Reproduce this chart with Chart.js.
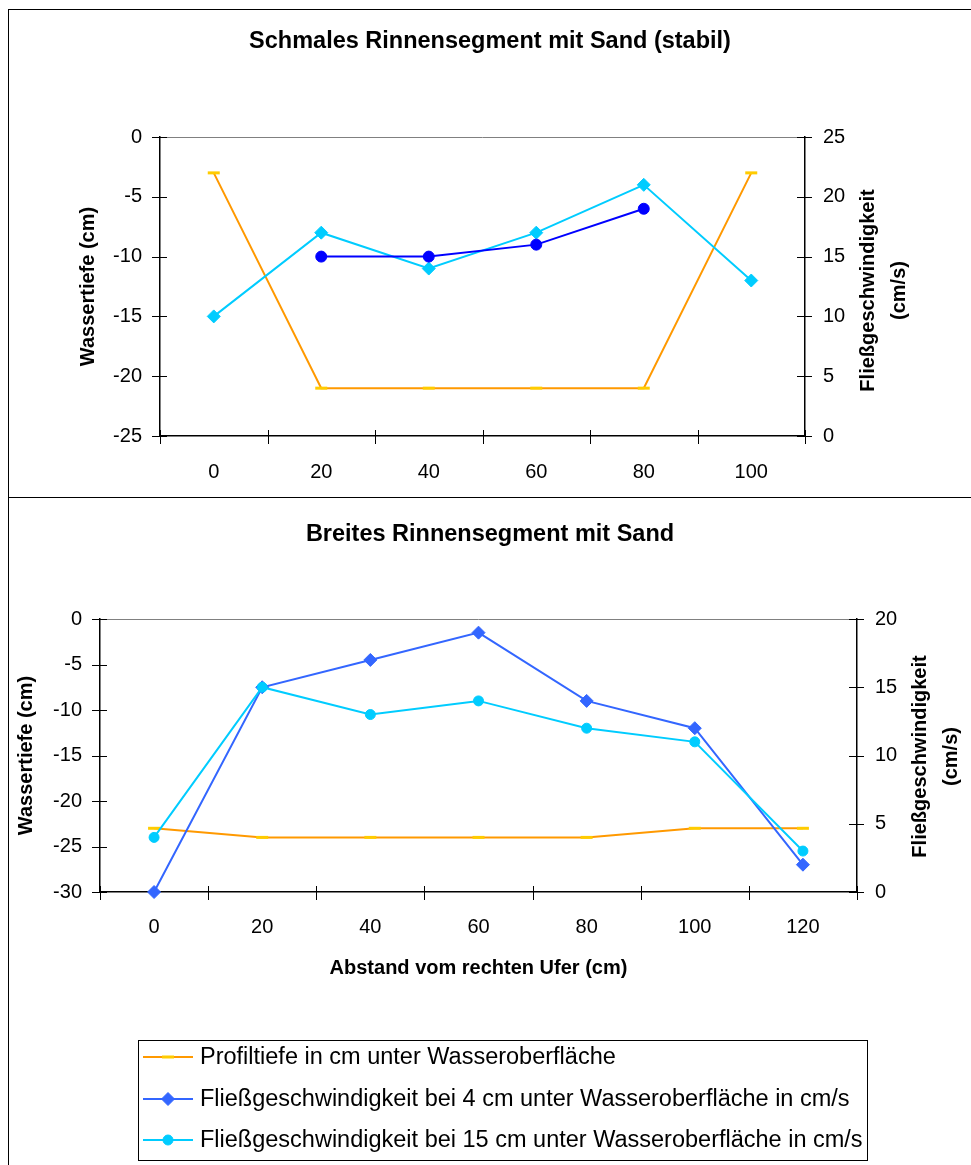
<!DOCTYPE html>
<html lang="de">
<head>
<meta charset="utf-8">
<title>Rinnensegmente mit Sand</title>
<script src="https://cdn.jsdelivr.net/npm/chart.js@4.4.1/dist/chart.umd.min.js"></script>
<style>
  html, body { margin: 0; padding: 0; background: #fff; }
  body { width: 971px; height: 1165px; position: relative; overflow: hidden; }
  .rahmen { position: absolute; left: 8px; width: 1000px; border: 1px solid #000; box-sizing: border-box; }
  #rahmen1 { top: 9px; height: 489px; }
  #rahmen2 { top: 497px; height: 720px; }
  canvas { position: absolute; }
  #c1 { left: 9px; top: 10px; }
  #c2 { left: 9px; top: 499px; }
</style>
</head>
<body>
<div class="rahmen" id="rahmen1"></div>
<div class="rahmen" id="rahmen2"></div>
<canvas id="c1" width="962" height="488"></canvas>
<canvas id="c2" width="962" height="666"></canvas>
<script>
// Schmales Rinnensegment (stabil): Abstand vom rechten Ufer in cm
const schmalAbstand = ['0', '20', '40', '60', '80', '100'];
const schmalProfiltiefe = [-3, -21, -21, -21, -21, -3];
const schmalV4 = [10, 17, 14, 17, 21, 13];
const schmalV15 = [null, 15, 15, 16, 19, null];

// Breites Rinnensegment
const breitAbstand = ['0', '20', '40', '60', '80', '100', '120'];
const breitProfiltiefe = [-23, -24, -24, -24, -24, -23, -23];
const breitV4 = [0, 15, 17, 19, 14, 12, 2];
const breitV15 = [4, 15, 13, 14, 12, 11, 3];

const serienNamen = [
  'Profiltiefe in cm unter Wasseroberfläche',
  'Fließgeschwindigkeit bei 4 cm unter Wasseroberfläche in cm/s',
  'Fließgeschwindigkeit bei 15 cm unter Wasseroberfläche in cm/s'
];
const titelSchmal = 'Schmales Rinnensegment mit Sand (stabil)';
const titelBreit = 'Breites Rinnensegment mit Sand';
const tiefeTitel = 'Wassertiefe (cm)';
const geschwTitel = ['Fließgeschwindigkeit', '(cm/s)'];
const abstandTitel = 'Abstand vom rechten Ufer (cm)';

const SCHRIFT = '"Liberation Sans", Arial, Helvetica, sans-serif';
Chart.defaults.font.family = SCHRIFT;
Chart.defaults.color = '#000';

// Cross-style tick marks on all three axes plus the grey top edge of the plot area
const achsenStriche = {
  id: 'achsenStriche',
  beforeDatasetsDraw(chart) {
    const { ctx, chartArea: a, scales } = chart;
    ctx.save();
    ctx.lineWidth = 1;
    ctx.strokeStyle = '#808080';
    ctx.beginPath();
    ctx.moveTo(a.left, Math.round(a.top) + 0.5);
    ctx.lineTo(a.right, Math.round(a.top) + 0.5);
    ctx.stroke();
    ctx.strokeStyle = '#000';
    ctx.beginPath();
    [['y', a.left], ['y1', a.right]].forEach(([id, x]) => {
      const s = scales[id];
      s.ticks.forEach((t) => {
        const py = Math.round(s.getPixelForValue(t.value)) + 0.5;
        ctx.moveTo(x - 8, py);
        ctx.lineTo(x + 7, py);
      });
    });
    const sx = scales.x;
    const n = sx.ticks.length;
    for (let i = 0; i <= n; i++) {
      const px = Math.round(sx.left + sx.width * i / n) + 0.5;
      ctx.moveTo(px, a.bottom - 6);
      ctx.lineTo(px, a.bottom + 8);
    }
    ctx.stroke();
    ctx.restore();
  }
};

// Right axis title, two lines, reading bottom to top
const rechterTitel = {
  id: 'rechterTitel',
  afterDraw(chart, args, opts) {
    const { ctx, chartArea: a } = chart;
    ctx.save();
    ctx.font = 'bold 20px ' + SCHRIFT;
    ctx.fillStyle = '#000';
    ctx.textAlign = 'center';
    ctx.textBaseline = 'middle';
    const cy = (a.top + a.bottom) / 2 + opts.dy;
    opts.zeilen.forEach((txt, i) => {
      ctx.save();
      ctx.translate(a.right + opts.abstaende[i], cy);
      ctx.rotate(-Math.PI / 2);
      ctx.fillText(txt, 0, 0);
      ctx.restore();
    });
    ctx.restore();
  }
};

// Framed legend below the lower chart: line sample with marker, then the series name
const legendeKasten = {
  id: 'legendeKasten',
  afterDraw(chart, args, opts) {
    if (!opts.aktiv) return;
    const { ctx } = chart;
    const { x, y, w, h, zeilen } = opts;
    ctx.save();
    ctx.lineWidth = 1;
    ctx.strokeStyle = '#000';
    ctx.strokeRect(x + 0.5, y + 0.5, w, h);
    ctx.font = '23.5px ' + SCHRIFT;
    ctx.textAlign = 'left';
    ctx.textBaseline = 'middle';
    chart.data.datasets.forEach((ds, i) => {
      const cy = y + zeilen[i];
      ctx.strokeStyle = ds.borderColor;
      ctx.lineWidth = ds.borderWidth;
      ctx.beginPath();
      ctx.moveTo(x + 5, cy);
      ctx.lineTo(x + 55, cy);
      ctx.stroke();
      ctx.fillStyle = ds.pointBackgroundColor;
      ctx.strokeStyle = ds.pointBorderColor;
      ctx.lineWidth = ds.pointBorderWidth;
      Chart.helpers.drawPoint(ctx, {
        pointStyle: ds.pointStyle, radius: ds.pointRadius,
        borderWidth: ds.pointBorderWidth, rotation: 0
      }, x + 30, cy);
      ctx.fillStyle = '#000';
      ctx.fillText(ds.label, x + 62, cy + 1);
    });
    ctx.restore();
  }
};

function tiefenSerie(daten) {
  return {
    label: serienNamen[0], data: daten, order: 2, clip: false,
    borderColor: '#FF9900', borderWidth: 2,
    pointStyle: 'line', pointRadius: 6, pointBorderWidth: 3,
    pointBorderColor: '#FFCC00', pointBackgroundColor: '#FFCC00',
    yAxisID: 'y'
  };
}
function geschwSerie(label, daten, farbe, stil, radius, order) {
  return {
    label: label, data: daten, order: order, clip: false,
    borderColor: farbe, borderWidth: 2,
    pointStyle: stil, pointRadius: radius, pointBorderWidth: 1,
    pointBorderColor: farbe, pointBackgroundColor: farbe,
    yAxisID: 'y1'
  };
}

function achsen(m) {
  const rand = { display: true, color: '#000', width: 1.5 };
  const gitter = { display: true, drawOnChartArea: false, drawTicks: false, offset: true };
  return {
    x: {
      type: 'category', offset: true, grid: gitter, border: rand,
      ticks: { font: { size: 20 }, padding: m.xPad, maxRotation: 0, autoSkip: false },
      title: m.xTitel ? { display: true, text: m.xTitel, font: { size: 20, weight: 'bold' }, padding: { top: 0, bottom: m.xTitelPad } } : { display: false },
      afterFit(s) { s.height = m.xHoehe; }
    },
    y: {
      position: 'left', min: m.yMin, max: 0, grid: gitter, border: rand,
      ticks: { stepSize: 5, font: { size: 20 }, padding: 18 },
      title: { display: true, text: tiefeTitel, font: { size: 20, weight: 'bold' }, padding: { top: m.yTitelPad, bottom: 0 } },
      afterFit(s) { s.width = m.yBreite; }
    },
    y1: {
      position: 'right', min: 0, max: m.y1Max, grid: gitter, border: rand,
      ticks: { stepSize: 5, font: { size: 20 }, padding: 18 },
      afterFit(s) { s.width = m.y1Breite; }
    }
  };
}

new Chart(document.getElementById('c1'), {
  type: 'line',
  data: {
    labels: schmalAbstand,
    datasets: [
      tiefenSerie(schmalProfiltiefe),
      geschwSerie(serienNamen[1], schmalV4, '#00CCFF', 'rectRot', 6.5, 1),
      geschwSerie(serienNamen[2], schmalV15, '#0000FF', 'circle', 5.5, 0)
    ]
  },
  plugins: [achsenStriche, rechterTitel, legendeKasten],
  options: {
    responsive: false, animation: false,
    layout: { padding: { left: 0, right: 0, top: 0, bottom: 0 } },
    plugins: {
      legend: { display: false }, tooltip: { enabled: false },
      title: { display: true, text: titelSchmal, color: '#000', font: { size: 23.5, weight: 'bold' }, padding: { top: 17.9, bottom: 80.9 } },
      rechterTitel: { zeilen: geschwTitel, abstaende: [63, 94], dy: 4 },
      legendeKasten: { aktiv: false }
    },
    scales: achsen({ xPad: 24, xHoehe: 62, yMin: -25, y1Max: 25, yBreite: 151, y1Breite: 166, yTitelPad: 67 })
  }
});

new Chart(document.getElementById('c2'), {
  type: 'line',
  data: {
    labels: breitAbstand,
    datasets: [
      tiefenSerie(breitProfiltiefe),
      geschwSerie(serienNamen[1], breitV4, '#3366FF', 'rectRot', 6.5, 1),
      geschwSerie(serienNamen[2], breitV15, '#00CCFF', 'circle', 5, 0)
    ]
  },
  plugins: [achsenStriche, rechterTitel, legendeKasten],
  options: {
    responsive: false, animation: false,
    layout: { padding: { left: 0, right: 0, top: 0, bottom: 173 } },
    plugins: {
      legend: { display: false }, tooltip: { enabled: false },
      title: { display: true, text: titelBreit, color: '#000', font: { size: 23.5, weight: 'bold' }, padding: { top: 21.9, bottom: 69.9 } },
      rechterTitel: { zeilen: geschwTitel, abstaende: [63, 94], dy: 1 },
      legendeKasten: { aktiv: true, x: 129, y: 541, w: 729, h: 120, zeilen: [17, 59, 100] }
    },
    scales: achsen({ xPad: 23, xHoehe: 100, xTitel: abstandTitel, xTitelPad: 12, yMin: -30, y1Max: 20, yBreite: 91, y1Breite: 114, yTitelPad: 5 })
  }
});
</script>
</body>
</html>
